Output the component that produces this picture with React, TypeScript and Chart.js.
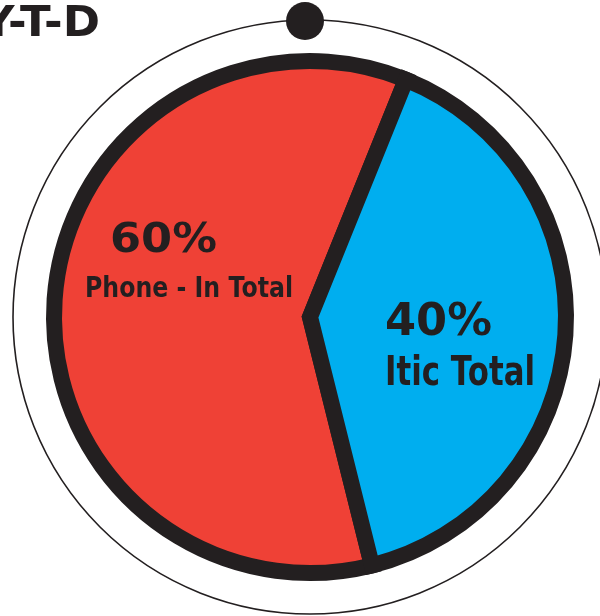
import React, { useEffect, useRef } from "react";
import { Chart, registerables } from "chart.js";
Chart.register(...registerables);

const categories = ["Phone - In Total", "Itic Total"];
const values = [60, 40];
const percentLabels = ["60%", "40%"];
const title = "Y-T-D";
const sliceColors = ["#EF4136", "#00AEEF"];
const ink = "#231F20";

const FONT = "'DejaVu Sans', 'Open Sans', sans-serif";

function drawFit(ctx: CanvasRenderingContext2D, text: string, x: number, y: number, size: number, targetWidth: number, align: "left" | "right" = "left") {
  ctx.save();
  ctx.font = `bold ${size}px ${FONT}`;
  const w = ctx.measureText(text).width;
  const sx = targetWidth / w;
  ctx.translate(x, y);
  ctx.scale(sx, 1);
  ctx.textAlign = align;
  ctx.textBaseline = "alphabetic";
  ctx.fillStyle = ink;
  ctx.fillText(text, 0, 0);
  ctx.restore();
}

const decorPlugin = {
  id: "decor",
  afterDraw(chart: any) {
    const ctx: CanvasRenderingContext2D = chart.ctx;
    const arc = chart.getDatasetMeta(0).data[0];
    if (!arc) return;
    const cx = arc.x;
    const cy = arc.y;
    const r = arc.outerRadius;
    const ringR = r + 41;
    ctx.save();
    ctx.beginPath();
    ctx.arc(cx, cy, ringR, 0, Math.PI * 2);
    ctx.lineWidth = 1.6;
    ctx.strokeStyle = ink;
    ctx.stroke();
    ctx.beginPath();
    ctx.arc(cx - 5, cy - ringR + 1, 19, 0, Math.PI * 2);
    ctx.fillStyle = ink;
    ctx.fill();
    ctx.restore();

    drawFit(ctx, title, 100, 36, 42, 118, "right");
    drawFit(ctx, percentLabels[0], cx - 200, cy - 65, 40, 107);
    drawFit(ctx, categories[0], cx - 225, cy - 20, 29, 208);
    drawFit(ctx, percentLabels[1], cx + 75, cy + 18, 45, 107);
    drawFit(ctx, categories[1], cx + 75, cy + 68, 40, 150);
  },
};

export default function App() {
  const ref = useRef<HTMLCanvasElement | null>(null);
  useEffect(() => {
    document.body.style.margin = "0";
    const canvas = ref.current!;
    const chart = new Chart(canvas, {
      type: "pie",
      data: {
        labels: categories,
        datasets: [
          {
            data: values,
            backgroundColor: sliceColors,
            borderColor: ink,
            borderWidth: 16,
            borderJoinStyle: "miter",
            borderAlign: "center",
          } as any,
        ],
      },
      options: {
        responsive: false,
        animation: false,
        rotation: 166,
        layout: { padding: { left: 46, top: 53, right: 26, bottom: 35 } },
        plugins: {
          legend: { display: false },
          tooltip: { enabled: false },
          title: { display: false },
        },
      },
      plugins: [decorPlugin],
    });
    return () => chart.destroy();
  }, []);
  return (
    <div style={{ position: "absolute", left: 0, top: 0, width: 600, height: 616, background: "#fff" }}>
      <canvas ref={ref} width={600} height={616} style={{ display: "block", width: 600, height: 616 }} />
    </div>
  );
}
